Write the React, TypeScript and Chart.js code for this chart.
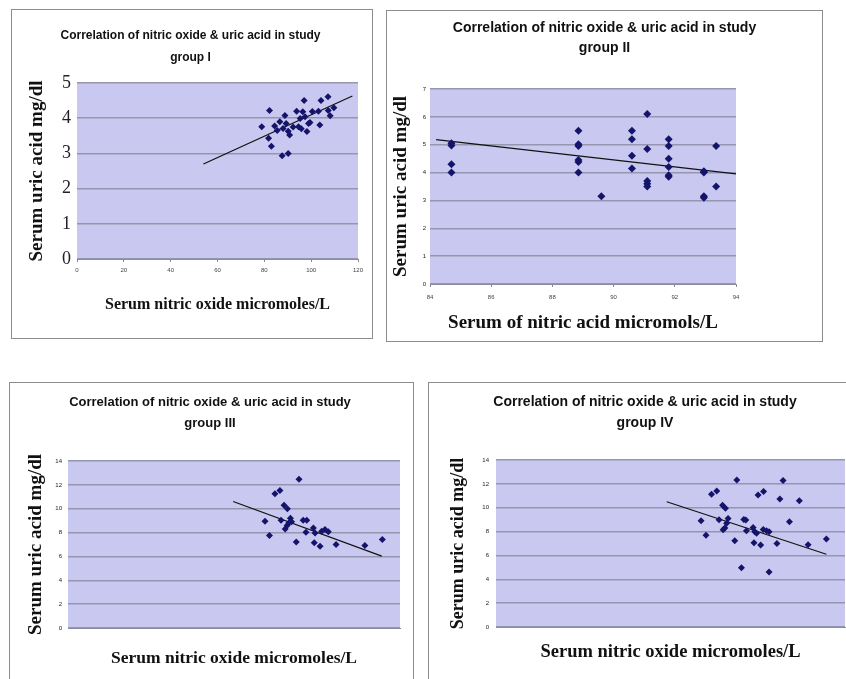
import React, { useEffect, useRef } from 'react';
import { Chart, registerables } from 'chart.js';

Chart.register(...registerables);

// ---------- text ----------
const TITLE_LINE_1 = 'Correlation of nitric oxide & uric acid in study';
const TITLE_LINE_2 = ['group I', 'group II', 'group III', 'group IV'];
const Y_TITLE = 'Serum uric acid mg/dl';
const X_TITLES = [
  'Serum nitric oxide micromoles/L',
  'Serum of nitric acid micromols/L',
  'Serum nitric oxide micromoles/L',
  'Serum nitric oxide micromoles/L',
];

// ---------- group I ----------
const G1_X = [78.9, 82.2, 81.8, 83.0, 84.4, 86.6, 88.8, 88.0, 90.2, 90.8, 87.6, 90.2, 89.3, 92.3, 93.8, 94.6, 95.3, 96.4, 97.0, 97.4, 98.9, 98.2, 100.5, 99.5, 103.1, 103.7, 104.2, 107.2, 107.3, 108.1, 109.7, 95.8, 85.5];
const G1_Y = [3.76, 4.22, 3.43, 3.2, 3.78, 3.9, 4.08, 3.71, 3.63, 3.52, 2.93, 3.0, 3.85, 3.75, 4.2, 3.76, 3.99, 4.18, 4.5, 4.04, 3.85, 3.62, 4.19, 3.88, 4.2, 3.81, 4.5, 4.61, 4.22, 4.07, 4.3, 3.7, 3.65];
const G1_TREND_X = [54, 117.6];
const G1_TREND_Y = [2.7, 4.63];
const G1_X_TICKS = { min: 0, max: 120, step: 20 };
const G1_Y_TICKS = { min: 0, max: 5, step: 1 };

// ---------- group II ----------
const G2_X = [84.7, 84.7, 84.7, 84.7, 88.85, 88.85, 88.85, 88.85, 88.85, 88.85, 89.6, 90.6, 90.6, 90.6, 90.6, 91.1, 91.1, 91.1, 91.1, 91.1, 91.8, 91.8, 91.8, 91.8, 91.8, 91.8, 92.95, 92.95, 92.95, 92.95, 93.35, 93.35];
const G2_Y = [5.05, 4.97, 4.3, 4.0, 5.5, 5.02, 4.95, 4.45, 4.38, 4.0, 3.15, 5.5, 5.2, 4.6, 4.15, 6.1, 4.85, 3.7, 3.6, 3.5, 5.2, 4.95, 4.5, 4.2, 3.9, 3.85, 4.05, 4.0, 3.15, 3.1, 4.95, 3.5];
const G2_TREND_X = [84.2, 94];
const G2_TREND_Y = [5.18, 3.95];
const G2_X_TICKS = { min: 84, max: 94, step: 2 };
const G2_Y_TICKS = { min: 0, max: 7, step: 1 };

// ---------- group III ----------
const G3_X = [71.2, 72.8, 74.8, 76.6, 77.0, 78.1, 79.3, 78.5, 79.2, 79.8, 80.4, 80.8, 82.5, 83.5, 85.0, 86.3, 86.0, 88.7, 89.3, 89.0, 91.1, 91.7, 92.9, 94.1, 96.9, 107.3, 113.6];
const G3_Y = [8.94, 7.75, 11.25, 11.53, 9.03, 10.28, 10.0, 8.3, 8.6, 8.8, 9.2, 8.9, 7.22, 12.47, 9.03, 9.03, 8.03, 8.39, 7.97, 7.14, 6.86, 8.11, 8.25, 8.06, 7.0, 6.92, 7.42];
const G3_TREND_X = [59.7, 113.4];
const G3_TREND_Y = [10.6, 6.03];
const G3_X_TICKS = { min: 0, max: 120, step: 20 };
const G3_Y_TICKS = { min: 0, max: 14, step: 2 };

// ---------- group IV ----------
const G4_X = [70.5, 72.2, 74.1, 75.9, 76.7, 77.9, 78.9, 78.1, 78.7, 79.3, 79.8, 82.1, 82.8, 84.4, 85.2, 85.9, 86.1, 88.4, 89.0, 89.6, 88.7, 91.0, 90.1, 92.0, 91.9, 93.0, 93.9, 93.9, 96.6, 97.6, 98.7, 100.9, 104.3, 107.3, 113.6];
const G4_Y = [8.9, 7.7, 11.12, 11.4, 9.0, 10.2, 9.95, 8.15, 8.3, 8.7, 9.1, 7.23, 12.33, 4.97, 9.02, 8.97, 8.07, 8.35, 7.98, 7.85, 7.06, 6.87, 11.07, 11.35, 8.18, 8.07, 7.98, 4.62, 7.0, 10.73, 12.28, 8.82, 10.58, 6.9, 7.37];
const G4_TREND_X = [58.7, 113.6];
const G4_TREND_Y = [10.5, 6.1];
const G4_X_TICKS = { min: 0, max: 120, step: 20 };
const G4_Y_TICKS = { min: 0, max: 14, step: 2 };

// ---------- styles ----------
const PLOT_BG = '#c9c8f0';
const GRID_COLOR = '#9595b0';
const POINT_COLOR = '#14146a';
const SANS = '"Liberation Sans", Arial, sans-serif';
const SERIF = '"Liberation Serif", "Times New Roman", serif';

interface Spec {
  left: number; top: number; w: number; h: number; rightBorder: boolean;
  pL: number; pR: number; yW: number; y2W: number; xH: number;
  titleSize: number; titleLH: number; titlePadTop: number; titlePadBottom: number; title2: string;
  yTitleSize: number; yTitlePad: number;
  xTitle: string; xTitleSize: number; xTitlePadBottom: number;
  xTicks: { min: number; max: number; step: number }; showXTicks: boolean; xTickPad: number;
  yTicks: { min: number; max: number; step: number }; yTickFont: any; yTickPad: number;
  xs: number[]; ys: number[]; tx: number[]; ty: number[]; r: number;
}

const SPECS: Spec[] = [
  {
    left: 11, top: 9, w: 360, h: 328, rightBorder: true,
    pL: 0, pR: 3, yW: 65, y2W: 11, xH: 79,
    titleSize: 12, titleLH: 22 / 12, titlePadTop: 15, titlePadBottom: 14, title2: TITLE_LINE_2[0],
    yTitleSize: 19, yTitlePad: 13.6,
    xTitle: X_TITLES[0], xTitleSize: 16, xTitlePadBottom: 23.4,
    xTicks: G1_X_TICKS, showXTicks: true, xTickPad: 5,
    yTicks: G1_Y_TICKS, yTickFont: { family: SERIF, size: 18 }, yTickPad: 6,
    xs: G1_X, ys: G1_Y, tx: G1_TREND_X, ty: G1_TREND_Y, r: 3.5,
  },
  {
    left: 386, top: 10, w: 435, h: 330, rightBorder: true,
    pL: 0, pR: 0, yW: 43, y2W: 86, xH: 57,
    titleSize: 14, titleLH: 20 / 14, titlePadTop: 7, titlePadBottom: 31, title2: TITLE_LINE_2[1],
    yTitleSize: 19, yTitlePad: 2.6,
    xTitle: X_TITLES[1], xTitleSize: 19, xTitlePadBottom: 6.6,
    xTicks: G2_X_TICKS, showXTicks: true, xTickPad: 7,
    yTicks: G2_Y_TICKS, yTickFont: { family: SANS, size: 6 }, yTickPad: 4,
    xs: G2_X, ys: G2_Y, tx: G2_TREND_X, ty: G2_TREND_Y, r: 4,
  },
  {
    left: 9, top: 382, w: 403, h: 296, rightBorder: true,
    pL: 0, pR: 3, yW: 58, y2W: 10, xH: 51,
    titleSize: 13, titleLH: 21 / 13, titlePadTop: 8.5, titlePadBottom: 27.5, title2: TITLE_LINE_2[2],
    yTitleSize: 19, yTitlePad: 14.6,
    xTitle: X_TITLES[2], xTitleSize: 17.5, xTitlePadBottom: 10.5,
    xTicks: G3_X_TICKS, showXTicks: false, xTickPad: 0,
    yTicks: G3_Y_TICKS, yTickFont: { family: SANS, size: 6 }, yTickPad: 6,
    xs: G3_X, ys: G3_Y, tx: G3_TREND_X, ty: G3_TREND_Y, r: 3.5,
  },
  {
    left: 428, top: 382, w: 440, h: 296, rightBorder: true,
    pL: 0, pR: 8, yW: 67, y2W: 16, xH: 52,
    titleSize: 14, titleLH: 1.5, titlePadTop: 8.5, titlePadBottom: 26.5, title2: TITLE_LINE_2[3],
    yTitleSize: 18, yTitlePad: 18.2,
    xTitle: X_TITLES[3], xTitleSize: 18.5, xTitlePadBottom: 15.9,
    xTicks: G4_X_TICKS, showXTicks: false, xTickPad: 0,
    yTicks: G4_Y_TICKS, yTickFont: { family: SANS, size: 6 }, yTickPad: 7,
    xs: G4_X, ys: G4_Y, tx: G4_TREND_X, ty: G4_TREND_Y, r: 3.5,
  },
];

const plotBg = {
  id: 'plotBg',
  beforeDraw(chart: any) {
    const { ctx, chartArea: a } = chart;
    ctx.save();
    ctx.fillStyle = PLOT_BG;
    ctx.fillRect(a.left, a.top, a.right - a.left, a.bottom - a.top);
    ctx.restore();
  },
};

function makeChart(canvas: HTMLCanvasElement, s: Spec) {
  const pts = s.xs.map((x, i) => ({ x, y: s.ys[i] }));
  const trend = s.tx.map((x, i) => ({ x, y: s.ty[i] }));
  return new Chart(canvas, {
    type: 'scatter',
    data: {
      datasets: [
        {
          data: trend,
          showLine: true,
          borderColor: '#111',
          borderWidth: 1.2,
          pointRadius: 0,
          order: 2,
        } as any,
        {
          data: pts,
          pointStyle: 'rectRot',
          pointRadius: s.r,
          pointBackgroundColor: POINT_COLOR,
          pointBorderColor: POINT_COLOR,
          pointBorderWidth: 0,
          order: 1,
        } as any,
      ],
    },
    options: {
      animation: false,
      responsive: false,
      maintainAspectRatio: false,
      devicePixelRatio: 1,
      layout: { padding: { left: s.pL, right: s.pR, top: 0, bottom: 0 } },
      plugins: {
        legend: { display: false },
        tooltip: { enabled: false },
        title: {
          display: true,
          text: [TITLE_LINE_1, s.title2],
          color: '#111',
          font: { family: SANS, size: s.titleSize, weight: 'bold', lineHeight: s.titleLH },
          padding: { top: s.titlePadTop, bottom: s.titlePadBottom },
        },
      },
      scales: {
        x: {
          type: 'linear',
          position: 'bottom',
          min: s.xTicks.min,
          max: s.xTicks.max,
          ticks: {
            display: s.showXTicks,
            stepSize: s.xTicks.step,
            color: '#444',
            font: { family: SANS, size: 6 },
            padding: s.xTickPad,
            maxRotation: 0,
          },
          grid: { drawOnChartArea: false, drawTicks: s.showXTicks, tickLength: 3, color: '#888' },
          border: { display: true, color: '#8a8aa0', width: 1 },
          title: {
            display: true,
            text: s.xTitle,
            color: '#111',
            font: { family: SERIF, size: s.xTitleSize, weight: 'bold', lineHeight: 1.2 },
            padding: { top: 0, bottom: s.xTitlePadBottom },
          },
          afterFit: (sc: any) => { sc.height = s.xH; },
        },
        y: {
          type: 'linear',
          position: 'left',
          min: s.yTicks.min,
          max: s.yTicks.max,
          ticks: {
            stepSize: s.yTicks.step,
            color: '#222',
            font: s.yTickFont,
            padding: s.yTickPad,
          },
          grid: { color: GRID_COLOR, lineWidth: 1.5, drawTicks: false },
          border: { display: false },
          title: {
            display: true,
            text: Y_TITLE,
            color: '#111',
            font: { family: SERIF, size: s.yTitleSize, weight: 'bold', lineHeight: 1.2 },
            padding: { top: s.yTitlePad, bottom: 0 },
          },
          afterFit: (sc: any) => { sc.width = s.yW; },
        },
        y2: {
          type: 'linear',
          position: 'right',
          display: true,
          grid: { display: false },
          ticks: { display: false },
          border: { display: false },
          title: { display: false },
          afterFit: (sc: any) => { sc.width = s.y2W; },
        },
      },
    } as any,
    plugins: [plotBg],
  });
}

function Panel({ spec }: { spec: Spec }) {
  const ref = useRef<HTMLCanvasElement>(null);
  useEffect(() => {
    if (!ref.current) return;
    const c = makeChart(ref.current, spec);
    return () => c.destroy();
  }, [spec]);
  return (
    <div
      style={{
        position: 'absolute',
        left: spec.left,
        top: spec.top,
        width: spec.w,
        height: spec.h,
        border: '1px solid #8c8c8c',
        background: '#fff',
      }}
    >
      <canvas ref={ref} width={spec.w} height={spec.h} style={{ display: 'block', width: spec.w, height: spec.h }} />
    </div>
  );
}

export default function App() {
  return (
    <div style={{ position: 'fixed', left: 0, top: 0, width: 846, height: 679, overflow: 'hidden', background: '#fff' }}>
      {SPECS.map((s, i) => (
        <Panel key={i} spec={s} />
      ))}
    </div>
  );
}
